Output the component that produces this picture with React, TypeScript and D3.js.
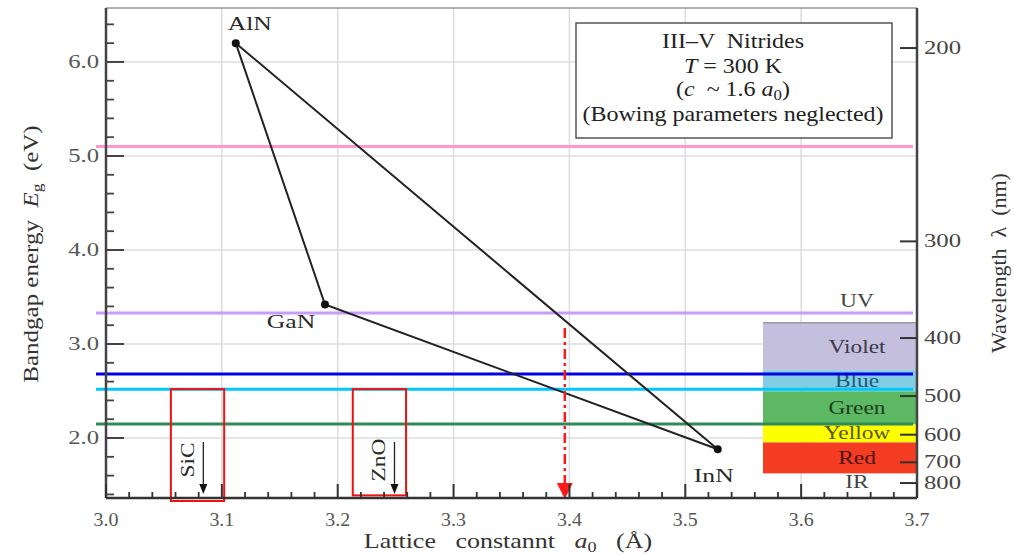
import React from "react";
import * as d3 from "d3";

// compounds (triangle corners)
const compounds = ["AlN", "GaN", "InN"];
const latticeA = [3.112, 3.189, 3.528];
const bandgapEg = [6.2, 3.42, 1.88];

// horizontal emission lines (eV)
const lineEnergies = [5.1, 3.33, 2.68, 2.52, 2.15];
const lineColors = ["#ff99cc", "#c99cf5", "#0000e0", "#00c8ff", "#2e8b57"];

// substrates
const substrates = ["SiC", "ZnO"];
const substrateA = [3.084, 3.249];
const substrateBoxA = [[3.056, 3.102], [3.213, 3.259]];
const substrateBoxBottom = [1.33, 1.39];

// visible spectrum bands (nm)
const bandNames = ["Violet", "Blue", "Green", "Yellow", "Red"];
const bandFrom = [380, 450, 490, 570, 625];
const bandTo = [450, 490, 570, 625, 750];
const bandFill = ["#c4bfdd", "#80cde5", "#5cb862", "#ffff00", "#f43c22"];
const bandText = ["#3a3848", "#1d5a7c", "#1f3d20", "#55550a", "#4a1410"];

const xTicks = [3.0, 3.1, 3.2, 3.3, 3.4, 3.5, 3.6, 3.7];
const yTicks = [2.0, 3.0, 4.0, 5.0, 6.0];
const waveTicks = [200, 300, 400, 500, 600, 700, 800];

const arrowA = 3.396;
const arrowFromE = 3.17;

const W = 1014, H = 556;
const L = 106, R = 917, T = 8, B = 498;

// stretched text helper (the original figure is wider than a plain Times face)
function Txt(props: any) {
  const { x, y, size = 19, sx = 1.3, rot = 0, anchor = "middle", fill = "#333", children } = props;
  return (
    <text transform={`translate(${x},${y}) rotate(${rot}) scale(${sx},1)`} fontSize={size}
      textAnchor={anchor} fill={fill} style={{ whiteSpace: "pre" }}>{children}</text>
  );
}

export default function App() {
  const x = d3.scaleLinear().domain([3.0, 3.7]).range([L, R]);
  const y = d3.scaleLinear().domain([1.362, 6.574]).range([B, T]);
  const yR = d3.scaleLinear().domain([1.39, 6.628]).range([B, T]);
  const yW = (nm: number) => yR(1240 / nm);

  const minorX = d3.range(3.0, 3.7001, 0.02).filter(v => Math.abs(v * 10 - Math.round(v * 10)) > 0.01);
  const minorY = d3.range(1.4, 6.5, 0.2).filter(v => Math.abs(v - Math.round(v)) > 0.01);

  const tri = d3.line<number>().x(i => x(latticeA[i])).y(i => y(bandgapEg[i]));
  const serif = "'Liberation Serif', 'Times New Roman', serif";

  const labelOff = [[14, -13], [-34, 23], [-4, 33]];

  return (
    <svg width={W} height={H} style={{ position: "absolute", left: 0, top: 0, background: "#fff" }} fontFamily={serif}>
      {/* grid */}
      {xTicks.slice(1, -1).map(v => (
        <line key={"gx" + v} x1={x(v)} x2={x(v)} y1={T} y2={B} stroke="#dcdcdc" strokeWidth={1.5} />
      ))}
      {yTicks.map(v => (
        <line key={"gy" + v} x1={L} x2={R} y1={y(v)} y2={y(v)} stroke="#dcdcdc" strokeWidth={1.5} />
      ))}

      {/* spectrum bands */}
      {bandNames.map((n, i) => (
        <rect key={n} x={763} width={R - 763} y={yW(bandFrom[i])} height={yW(bandTo[i]) - yW(bandFrom[i])} fill={bandFill[i]} />
      ))}
      <line x1={763} x2={R} y1={yW(bandFrom[0])} y2={yW(bandFrom[0])} stroke="#9a9a9a" strokeWidth={1.5} />
      {bandNames.map((n, i) => (
        <Txt key={"t" + n} x={857} y={(yW(bandFrom[i]) + yW(bandTo[i])) / 2 + 6} size={18} fill={bandText[i]}>{n}</Txt>
      ))}
      <Txt x={857} y={yW(bandFrom[0]) - 16} size={18} fill="#444">UV</Txt>
      <Txt x={857} y={yW(bandTo[4]) + 15} size={18} fill="#444">IR</Txt>

      {/* emission lines */}
      {lineEnergies.map((e, i) => (
        <line key={"e" + i} x1={96} x2={913} y1={y(e)} y2={y(e)} stroke={lineColors[i]} strokeWidth={3} />
      ))}

      {/* legend box */}
      <rect x={576} y={23} width={316} height={115} fill="#fff" stroke="#555" strokeWidth={1.5} />
      <Txt x={733} y={48} size={20} sx={1.2} fill="#222">III–V  Nitrides</Txt>
      <Txt x={733} y={73} size={20} sx={1.2} fill="#222"><tspan fontStyle="italic">T</tspan> = 300 K</Txt>
      <Txt x={733} y={96} size={20} sx={1.2} fill="#222">(<tspan fontStyle="italic">c</tspan>  ~ 1.6 <tspan fontStyle="italic">a</tspan><tspan fontSize={14} dy={4}>0</tspan><tspan dy={-4}>)</tspan></Txt>
      <Txt x={733} y={121} size={20} sx={1.2} fill="#222">(Bowing parameters neglected)</Txt>

      {/* triangle */}
      <path d={tri([0, 1, 2, 0]) || ""} fill="none" stroke="#222" strokeWidth={2} />
      {compounds.map((c, i) => (
        <g key={c}>
          <circle cx={x(latticeA[i])} cy={y(bandgapEg[i])} r={4} fill="#111" />
          <Txt x={x(latticeA[i]) + labelOff[i][0]} y={y(bandgapEg[i]) + labelOff[i][1]} size={19} sx={1.35} fill="#2a2a2a">{c}</Txt>
        </g>
      ))}

      {/* substrates */}
      {substrates.map((s, i) => {
        const ax = x(substrateA[i]);
        return (
          <g key={s}>
            <rect x={x(substrateBoxA[i][0])} y={y(lineEnergies[3])} width={x(substrateBoxA[i][1]) - x(substrateBoxA[i][0])}
              height={y(substrateBoxBottom[i]) - y(lineEnergies[3])} fill="none" stroke="#ee1111" strokeWidth={2} />
            <line x1={ax} x2={ax} y1={442} y2={486} stroke="#222" strokeWidth={1.3} />
            <path d={`M${ax - 4},${484}L${ax + 4},${484}L${ax},${494}Z`} fill="#111" />
            <Txt x={ax - 9} y={460} rot={-90} size={18} sx={1.3} fill="#2a2a2a">{s}</Txt>
          </g>
        );
      })}

      {/* red dash-dot arrow */}
      <line x1={x(arrowA)} x2={x(arrowA)} y1={y(arrowFromE)} y2={B - 14} stroke="#ff1a1a" strokeWidth={2.5} strokeDasharray="10 4 3 4" />
      <path d={`M${x(arrowA) - 8},${B - 15}L${x(arrowA) + 8},${B - 15}L${x(arrowA)},${B + 1}Z`} fill="#ff1a1a" />

      {/* frame */}
      <line x1={L} x2={R} y1={T} y2={T} stroke="#666" strokeWidth={1.2} />
      <line x1={L} x2={L} y1={T} y2={B} stroke="#444" strokeWidth={2.5} />
      <line x1={L} x2={R} y1={B} y2={B} stroke="#333" strokeWidth={2.5} />
      <line x1={R} x2={R} y1={T} y2={B} stroke="#444" strokeWidth={2.5} />

      {/* left axis ticks */}
      {yTicks.map(v => (
        <g key={"yt" + v}>
          <line x1={L} x2={L + 18} y1={y(v)} y2={y(v)} stroke="#444" strokeWidth={2} />
          <Txt x={99} y={y(v) + 6} size={19} sx={1.3} anchor="end" fill="#555">{v.toFixed(1)}</Txt>
        </g>
      ))}
      {minorY.map(v => (
        <line key={"ym" + v} x1={L} x2={L + 8} y1={y(v)} y2={y(v)} stroke="#444" strokeWidth={1.8} />
      ))}

      {/* bottom axis ticks */}
      {xTicks.map(v => (
        <g key={"xt" + v}>
          <line x1={x(v)} x2={x(v)} y1={B} y2={B - 14} stroke="#333" strokeWidth={2} />
          <Txt x={x(v)} y={526} size={19} sx={1.05} fill="#555">{v.toFixed(1)}</Txt>
        </g>
      ))}
      {minorX.map(v => (
        <line key={"xm" + v} x1={x(v)} x2={x(v)} y1={B} y2={B - 6} stroke="#333" strokeWidth={1.8} />
      ))}

      {/* right wavelength axis */}
      {waveTicks.map(v => (
        <g key={"wt" + v}>
          <line x1={R - 17} x2={R} y1={yW(v)} y2={yW(v)} stroke="#333" strokeWidth={2} />
          <Txt x={924} y={yW(v) + 6} size={19} sx={1.3} anchor="start" fill="#444">{v}</Txt>
        </g>
      ))}

      {/* axis titles */}
      <Txt x={508} y={548} size={20} sx={1.3}>
        Lattice   constannt   <tspan fontStyle="italic">a</tspan><tspan fontSize={14} dy={4}>0</tspan><tspan dy={-4}>   (Å)</tspan>
      </Txt>
      <Txt x={38} y={254} rot={-90} size={20} sx={1.25}>
        Bandgap energy  <tspan fontStyle="italic">E</tspan><tspan fontSize={14} dy={4}>g</tspan><tspan dy={-4}>  (eV)</tspan>
      </Txt>
      <Txt x={1006} y={263} rot={-90} size={20} sx={1.1}>
        Wavelength  λ  (nm)
      </Txt>
    </svg>
  );
}
